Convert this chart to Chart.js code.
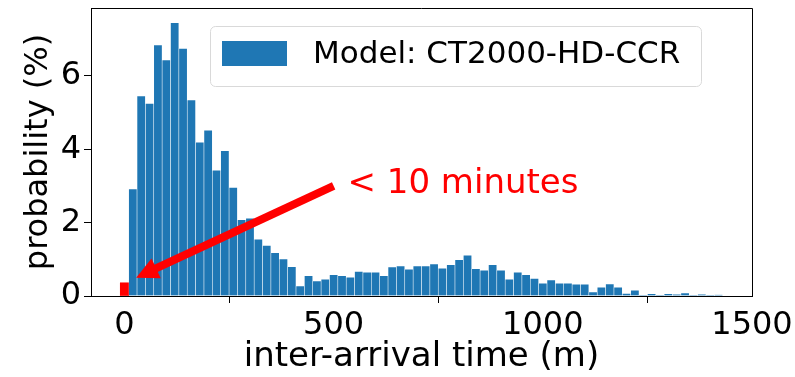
<!DOCTYPE html>
<html>
<head>
<meta charset="utf-8">
<script src="https://cdn.jsdelivr.net/npm/chart.js@4.4.0/dist/chart.umd.min.js"></script>
<style>
  html,body{margin:0;padding:0;background:#fff;}
  canvas{display:block;}
</style>
</head>
<body>
<canvas id="chHist" width="795" height="377"></canvas>
<script>
// histogram bins (centre of each 20 min bin) and probability in %
const binCenters = [20,40,60,80,100,120,140,160,180,200,220,240,260,280,300,320,340,360,380,400,
  420,440,460,480,500,520,540,560,580,600,620,640,660,680,700,720,740,760,780,800,
  820,840,860,880,900,920,940,960,980,1000,1020,1040,1060,1080,1100,1120,1140,1160,1180,1200,
  1220,1240,1260,1280,1300,1320,1340,1360,1380,1400,1420];
const probability = [2.92,5.45,5.25,6.84,6.43,7.45,6.75,5.34,4.19,4.52,3.43,3.96,2.96,2.08,2.12,1.55,1.38,1.18,1.01,0.80,
  0.27,0.55,0.41,0.46,0.58,0.55,0.51,0.67,0.65,0.65,0.55,0.79,0.82,0.73,0.82,0.82,0.87,0.76,0.85,0.99,
  1.11,0.74,0.70,0.85,0.70,0.46,0.65,0.58,0.48,0.35,0.44,0.35,0.35,0.32,0.32,0.11,0.24,0.33,0.24,0.07,
  0.16,0.01,0.06,0.01,0.06,0.05,0.08,0.02,0.05,0.01,0.03];
// the short (< 10 min) bin, highlighted in red
const shortBin = [0];
const shortProb = [0.36];

const xTicks = [0,500,1000,1500];
const yTicks = [0,2,4,6];
const seriesLabel = 'Model: CT2000-HD-CCR';
const noteText = '< 10 minutes';
const noteFrom = [500, 3];     // arrow tail (data coords)
const noteTo = [28, 0.5];      // arrow tip (data coords)
const noteTextAt = [533, 2.82];

const FONT = '"DejaVu Sans", "Liberation Sans", sans-serif';
const BLUE = '#1f77b4';

const extras = {
  id:'extras',
  afterDraw(chart){
    const ctx = chart.ctx, a = chart.chartArea;
    const xs = chart.scales.x, ys = chart.scales.y;
    ctx.save();
    // top / right spines
    ctx.strokeStyle = '#000'; ctx.lineWidth = 1;
    ctx.beginPath();
    ctx.moveTo(a.left, a.top+0.5); ctx.lineTo(a.right+0.5, a.top+0.5); ctx.lineTo(a.right+0.5, a.bottom);
    ctx.stroke();

    // arrow
    const x0 = xs.getPixelForValue(noteFrom[0]), y0 = ys.getPixelForValue(noteFrom[1]);
    const x1 = xs.getPixelForValue(noteTo[0]), y1 = ys.getPixelForValue(noteTo[1]);
    const dx = x1-x0, dy = y1-y0, len = Math.hypot(dx,dy);
    const ux = dx/len, uy = dy/len, hl = 22, hw = 11;
    const bx = x1-ux*hl, by = y1-uy*hl;
    ctx.strokeStyle = 'red'; ctx.fillStyle = 'red';
    ctx.lineWidth = 8; ctx.lineCap = 'butt';
    ctx.beginPath(); ctx.moveTo(x0,y0); ctx.lineTo(bx+ux*2,by+uy*2); ctx.stroke();
    ctx.beginPath();
    ctx.moveTo(x1,y1);
    ctx.lineTo(bx - uy*hw, by + ux*hw);
    ctx.lineTo(bx + uy*hw, by - ux*hw);
    ctx.closePath(); ctx.fill();

    // note text
    ctx.font = '34px ' + FONT;
    ctx.textAlign = 'left'; ctx.textBaseline = 'alphabetic';
    ctx.fillText(noteText, xs.getPixelForValue(noteTextAt[0]), ys.getPixelForValue(noteTextAt[1]));

    // legend box
    const lx = a.right-51, ly = a.top+18, lw = 491, lh = 60;
    const L = lx-lw;
    ctx.lineWidth = 1; ctx.strokeStyle = '#d9d9d9'; ctx.fillStyle = 'rgba(255,255,255,0.8)';
    ctx.beginPath(); ctx.roundRect(L+0.5, ly+0.5, lw, lh, 5); ctx.fill(); ctx.stroke();
    ctx.fillStyle = chart.data.datasets[0].backgroundColor;
    ctx.fillRect(L+12, ly+15, 65, 25);
    ctx.fillStyle = '#000'; ctx.font = '31px ' + FONT;
    ctx.textBaseline = 'middle';
    ctx.fillText(chart.data.datasets[0].label, L+103, ly+29);
    ctx.restore();
  }
};

new Chart(document.getElementById('chHist'), {
  type:'bar',
  data:{
    datasets:[
      { label:seriesLabel, data:binCenters.map((c,i)=>({x:c, y:probability[i]})),
        backgroundColor:BLUE, borderColor:'rgba(255,255,255,0.3)', borderWidth:0.6,
        barPercentage:1, categoryPercentage:1 },
      { label:'short', data:shortBin.map((c,i)=>({x:c, y:shortProb[i]})),
        backgroundColor:'red', borderWidth:0, barPercentage:1, categoryPercentage:1 }
    ]
  },
  options:{
    responsive:false, animation:false, devicePixelRatio:1,
    grouped:false,
    layout:{ padding:{ top:8, right:43, left:0, bottom:0 } },
    plugins:{ legend:{ display:false }, tooltip:{ enabled:false } },
    scales:{
      x:{ type:'linear', min:-80, max:1500, offset:false,
        afterBuildTicks: s=>{ s.ticks = xTicks.map(v=>({value:v})); },
        afterFit: s=>{ s.height = 81; s.paddingLeft = 0; s.paddingRight = 0; },
        grid:{ drawOnChartArea:false, drawTicks:true, tickLength:7, color:'#000' },
        border:{ display:true, color:'#000', width:1 },
        ticks:{ color:'#000', font:{ family:FONT, size:32 }, padding:3, maxRotation:0, callback:v=>String(v) },
        title:{ display:true, text:'inter-arrival time (m)', color:'#000', font:{ family:FONT, size:34 }, padding:{ top:0, bottom:-1 } }
      },
      y:{ min:0, max:7.85,
        afterBuildTicks: s=>{ s.ticks = yTicks.map(v=>({value:v})); },
        afterFit: s=>{ s.width = 91; s.paddingTop = 0; s.paddingBottom = 0; },
        grid:{ drawOnChartArea:false, drawTicks:true, tickLength:7, color:'#000' },
        border:{ display:true, color:'#000', width:1 },
        ticks:{ color:'#000', font:{ family:FONT, size:32 }, padding:3, callback:v=>String(v) },
        title:{ display:true, text:'probability (%)', color:'#000', font:{ family:FONT, size:32 }, padding:{ top:19, bottom:0 } }
      }
    }
  },
  plugins:[extras]
});
</script>
</body>
</html>
